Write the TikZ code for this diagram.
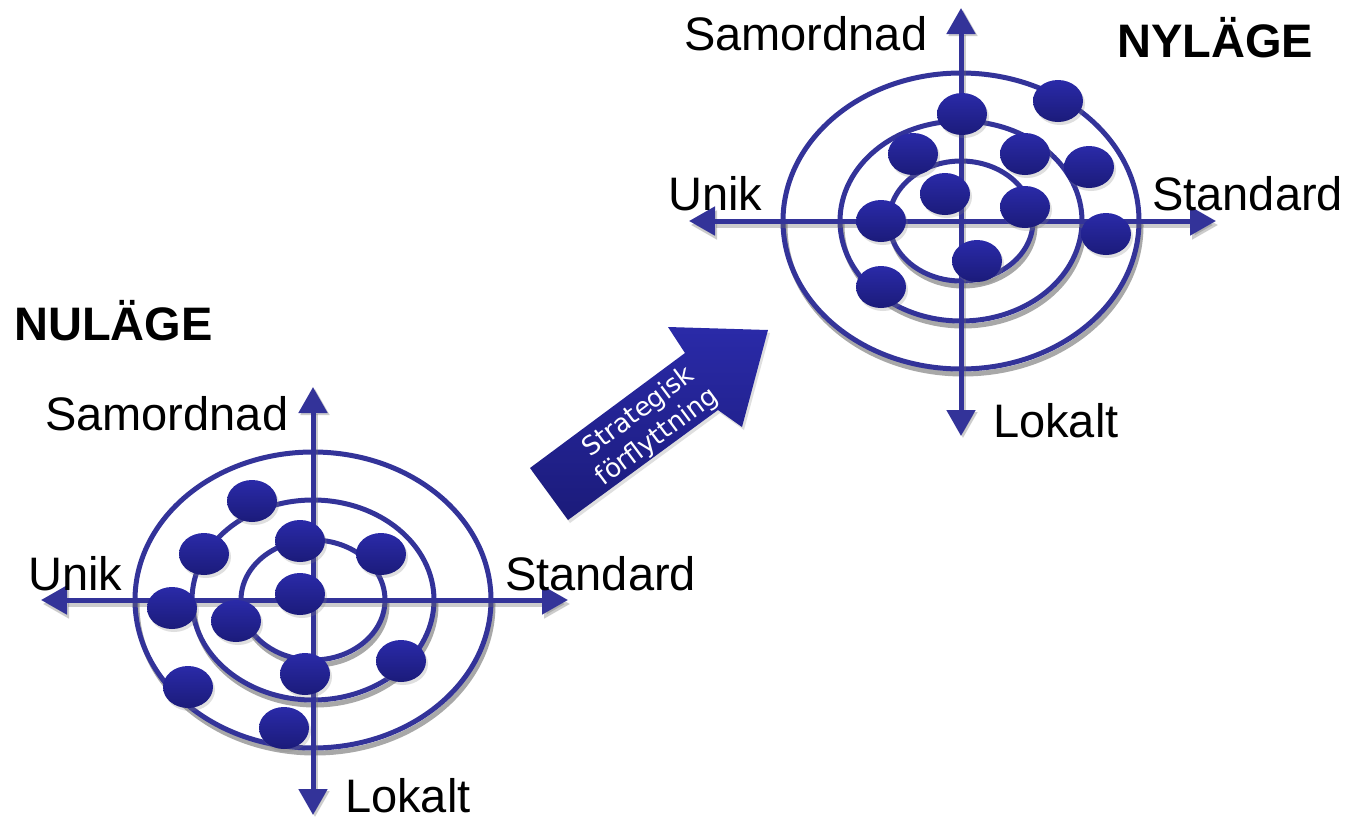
\documentclass[tikz,border=0pt]{standalone}
\usepackage{fontspec}
\setmainfont{Liberation Sans}
\newfontfamily\arrowfont{DejaVu Sans}
\usetikzlibrary{arrows.meta,shapes.geometric,shadows}
\definecolor{axisblue}{RGB}{51,51,153}
\definecolor{blobtop}{RGB}{42,42,168}
\definecolor{blobbot}{RGB}{27,27,122}
\definecolor{shadowgray}{RGB}{110,110,110}
\tikzset{
  axisline/.style={axisblue, line width=5pt,
    {Triangle[width=28pt,length=26pt]}-{Triangle[width=28pt,length=26pt]}},
  axisshadow/.style={shadowgray, opacity=0.35, line width=5pt,
    {Triangle[width=28pt,length=26pt]}-{Triangle[width=28pt,length=26pt]}},
  ring/.style={draw=axisblue, line width=5pt, ellipse, inner sep=0pt, outer sep=0pt},
  ringshadow/.style={draw=shadowgray, line width=5pt, opacity=0.6},
  blob/.style={ellipse, minimum width=50pt, minimum height=42pt, inner sep=0pt,
    top color=blobtop, bottom color=blobbot, draw=none,
    drop shadow={opacity=0.25, shadow xshift=2pt, shadow yshift=-3pt}},
  lbl/.style={font=\fontsize{47}{52}\selectfont, inner sep=0pt, anchor=base west},
  ttl/.style={font=\fontsize{47}{52}\selectfont\bfseries, inner sep=0pt, anchor=base west},
  target/.pic={
    \begin{scope}
      \clip (-330,0) rectangle (330,270);
      \draw[ringshadow] (2,5) ellipse [x radius=178pt, y radius=148pt];
      \draw[ringshadow] (2,5) ellipse [x radius=121pt, y radius=100pt];
      \draw[ringshadow] (2,5) ellipse [x radius=72pt, y radius=60pt];
    \end{scope}
    \node[ring, minimum width=356pt, minimum height=296pt] (-outer) at (0,0) {};
    \node[ring, minimum width=242pt, minimum height=200pt] (-mid) at (0,0) {};
    \node[ring, minimum width=144pt, minimum height=120pt] (-inner) at (0,0) {};
    \coordinate (-n) at (0,-213);
    \coordinate (-s) at (0,215);
    \coordinate (-w) at (-272,0);
    \coordinate (-e) at (255,0);
    \coordinate (-ns) at (2,-211);
    \coordinate (-ss) at (2,217);
    \coordinate (-ws) at (-270,4);
    \coordinate (-es) at (257,4);
    \draw[axisshadow] (-ws) -- (-es);
    \draw[axisshadow] (-ns) -- (-ss);
    \draw[axisline] (-w) -- (-e);
    \draw[axisline] (-n) -- (-s);
  }
}
\begin{document}
\begin{tikzpicture}[x=1pt, y=-1pt]
\useasboundingbox (0,0) rectangle (1350,820);
\fill[white] (0,0) rectangle (1350,820);

% left target (NULÄGE)
\pic (L) at (313,600) {target};
\node[blob] (L1)  at (252,501) {};
\node[blob] (L2)  at (204,554) {};
\node[blob] (L3)  at (300,541) {};
\node[blob] (L4)  at (381,554) {};
\node[blob] (L5)  at (300,594) {};
\node[blob] (L6)  at (172,608) {};
\node[blob] (L7)  at (236,621) {};
\node[blob] (L8)  at (401,661) {};
\node[blob] (L9)  at (305,674) {};
\node[blob] (L10) at (188,687) {};
\node[blob] (L11) at (284,728) {};
\node[lbl] (Lsam) at (45,430) {Samordnad};
\node[lbl] (Luni) at (28,590) {Unik};
\node[lbl] (Lsta) at (505,590) {Standard};
\node[lbl] (Llok) at (345,812) {Lokalt};
\node[ttl] (Ltitle) at (14,340) {NULÄGE};

% right target (NYLÄGE)
\pic (R) at (961,221) {target};
\node[blob] (R1)  at (962,114) {};
\node[blob] (R2)  at (1058,101) {};
\node[blob] (R3)  at (913,154) {};
\node[blob] (R4)  at (1025,154) {};
\node[blob] (R5)  at (1089,167) {};
\node[blob] (R6)  at (945,194) {};
\node[blob] (R7)  at (1025,207) {};
\node[blob] (R8)  at (881,221) {};
\node[blob] (R9)  at (1106,234) {};
\node[blob] (R10) at (977,261) {};
\node[blob] (R11) at (881,287) {};
\node[lbl] (Rsam) at (684,50) {Samordnad};
\node[lbl] (Runi) at (668,210) {Unik};
\node[lbl] (Rsta) at (1152,210) {Standard};
\node[lbl] (Rlok) at (993,437) {Lokalt};
\node[ttl] (Rtitle) at (1117,57) {NYLÄGE};

% big block arrow
\path[top color=blobtop, bottom color=blobbot,
      drop shadow={opacity=0.25, shadow xshift=2pt, shadow yshift=-3pt}]
  (530,468) -- (685,353) -- (668,327) -- (768,330) -- (742,427) -- (718,410) -- (568,520) -- cycle;
\node[text=white, rotate=36.8, align=center, inner sep=0pt,
      font=\arrowfont\fontsize{26}{31}\selectfont] (move) at (648,425)
  {Strategisk\\förflyttning};
\end{tikzpicture}
\end{document}
